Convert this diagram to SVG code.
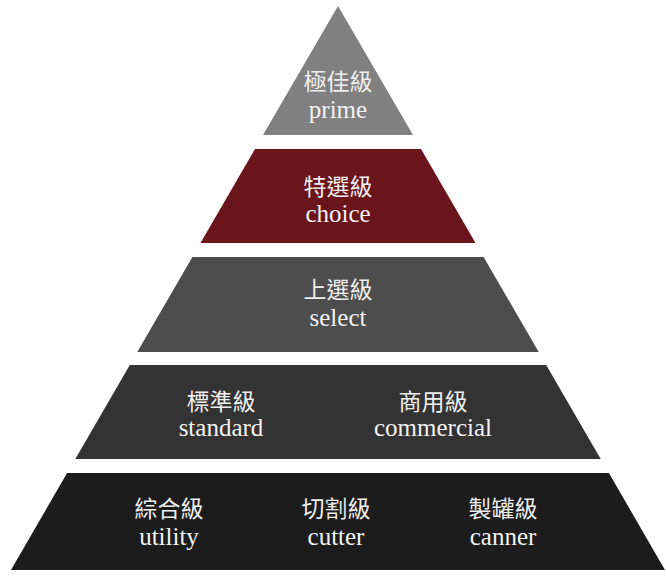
<svg xmlns="http://www.w3.org/2000/svg" width="666" height="578" viewBox="0 0 666 578">
<style>
.zh{font-family:"Noto Sans CJK TC","Noto Sans CJK SC",sans-serif;font-size:23px;fill:#eeeeee;text-anchor:middle}
.en{font-family:"Liberation Serif",serif;font-size:25px;fill:#f2f2f2;text-anchor:middle}
</style>
<rect width="666" height="578" fill="#ffffff"/>
<g id="prime">
<polygon points="338,6 413,135 263,135" fill="#808080"/>
<text class="zh" x="338" y="90">極佳級</text>
<text class="en" x="338" y="118">prime</text>
</g>
<g id="choice">
<polygon points="255,149 421,149 475.5,243 200.5,243" fill="#6a141c"/>
<text class="zh" x="338" y="195">特選級</text>
<text class="en" x="338" y="222">choice</text>
</g>
<g id="select">
<polygon points="192.4,257 483.6,257 538.7,352 137.3,352" fill="#4d4d4d"/>
<text class="zh" x="338" y="298">上選級</text>
<text class="en" x="338" y="326">select</text>
</g>
<g id="standard">
<polygon points="129.8,365 546.2,365 600.7,459 75.3,459" fill="#333333"/>
<text class="zh" x="221" y="410">標準級</text>
<text class="en" x="221" y="436">standard</text>
</g>
<g id="commercial">
<text class="zh" x="433" y="410">商用級</text>
<text class="en" x="433" y="436">commercial</text>
</g>
<g id="utility">
<polygon points="67.1,473 608.9,473 665,570 11,570" fill="#1c1c1c"/>
<text class="zh" x="169" y="517">綜合級</text>
<text class="en" x="169" y="545">utility</text>
</g>
<g id="cutter">
<text class="zh" x="336" y="517">切割級</text>
<text class="en" x="336" y="545">cutter</text>
</g>
<g id="canner">
<text class="zh" x="503" y="517">製罐級</text>
<text class="en" x="503" y="545">canner</text>
</g>
<g id="connectors"/>
</svg>
